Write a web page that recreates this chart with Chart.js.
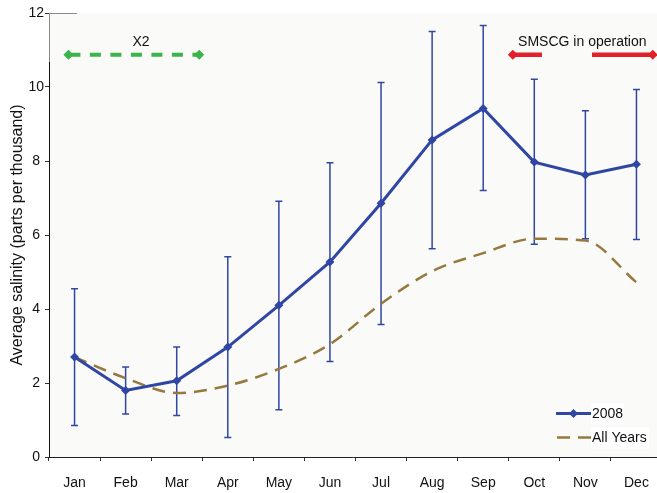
<!DOCTYPE html>
<html>
<head>
<meta charset="utf-8">
<script src="https://cdn.jsdelivr.net/npm/chart.js@4/dist/chart.umd.min.js"></script>
<style>
  html, body { margin: 0; padding: 0; background: #ffffff; }
  #wrap { width: 657px; height: 493px; position: relative; }
</style>
</head>
<body>
<div id="wrap"><canvas id="c" width="657" height="493"></canvas></div>
<script>
// ---- data ----
const months = ['Jan','Feb','Mar','Apr','May','Jun','Jul','Aug','Sep','Oct','Nov','Dec'];
const salinity2008 = [2.70, 1.80, 2.06, 2.97, 4.10, 5.27, 6.86, 8.57, 9.42, 7.97, 7.62, 7.91];
const errHigh2008  = [4.55, 2.43, 2.97, 5.41, 6.91, 7.95, 10.12, 11.50, 11.66, 10.21, 9.36, 9.93];
const errLow2008   = [0.85, 1.16, 1.12, 0.53, 1.28, 2.58, 3.58, 5.63, 7.20, 5.75, 5.90, 5.88];
const salinityAll  = [2.70, 2.13, 1.73, 1.93, 2.38, 3.05, 4.14, 5.02, 5.51, 5.90, 5.85, 4.72];
const yTicks = [0, 2, 4, 6, 8, 10, 12];

// annotation spans (category index units, salinity units)
const x2Span = [-0.12, 2.44];
const smscgLeft = [8.58, 9.15];
const smscgRight = [10.13, 11.32];
const annotY = 10.87;
const annotTextY = 11.2;

const BLUE = '#3046A3';
const BROWN = '#97793F';
const GREEN = '#3AB54A';
const RED = '#E2202A';
const FONT = "'Liberation Sans', Arial, sans-serif";

function diamond(ctx, x, y, r, color) {
  ctx.save();
  ctx.fillStyle = color;
  ctx.beginPath();
  ctx.moveTo(x, y - r); ctx.lineTo(x + r, y); ctx.lineTo(x, y + r); ctx.lineTo(x - r, y);
  ctx.closePath(); ctx.fill();
  ctx.restore();
}

// plot area continues a few pixels past the right edge of the picture (cropped)
const extendPlugin = {
  id: 'extendRight',
  afterLayout(chart) {
    const s = chart.scales.x;
    const newRight = chart.width + 5;
    s.right = newRight;
    s.width = newRight - s.left;
    s.configure();
    chart.chartArea.right = newRight;
    chart.chartArea.width = newRight - chart.chartArea.left;
  }
};

const bgPlugin = {
  id: 'bg',
  beforeDraw(chart) {
    const {ctx, chartArea: a} = chart;
    ctx.save();
    ctx.fillStyle = '#FAFAF8';
    ctx.fillRect(a.left, a.top, a.right - a.left, a.bottom - a.top);
    ctx.restore();
  }
};

const errPlugin = {
  id: 'errbars',
  beforeDatasetsDraw(chart) {
    const {ctx} = chart;
    const xs = chart.scales.x, ys = chart.scales.y;
    ctx.save();
    ctx.strokeStyle = BLUE;
    ctx.lineWidth = 1.5;
    for (let i = 0; i < months.length; i++) {
      const x = xs.getPixelForValue(i);
      const yh = ys.getPixelForValue(errHigh2008[i]);
      const yl = ys.getPixelForValue(errLow2008[i]);
      ctx.beginPath();
      ctx.moveTo(x, yh); ctx.lineTo(x, yl);
      ctx.moveTo(x - 3.5, yh); ctx.lineTo(x + 3.5, yh);
      ctx.moveTo(x - 3.5, yl); ctx.lineTo(x + 3.5, yl);
      ctx.stroke();
    }
    ctx.restore();
  }
};

const annotPlugin = {
  id: 'annot',
  afterDraw(chart) {
    const {ctx, chartArea: a} = chart;
    const xs = chart.scales.x, ys = chart.scales.y;
    const y = ys.getPixelForValue(annotY);
    const ty = ys.getPixelForValue(annotTextY);
    ctx.save();
    // artifact lines at top-left
    ctx.strokeStyle = '#8A8A8A';
    ctx.lineWidth = 1;
    ctx.beginPath();
    ctx.moveTo(a.left + 0.5, a.top + 0.5); ctx.lineTo(a.left + 28, a.top + 0.5);
    ctx.moveTo(a.left + 0.5, a.top); ctx.lineTo(a.left + 0.5, a.top + 49);
    ctx.stroke();

    // X2 green dashed arrow
    const gx1 = xs.getPixelForValue(x2Span[0]);
    const gx2 = xs.getPixelForValue(x2Span[1]);
    ctx.strokeStyle = GREEN;
    ctx.lineWidth = 4;
    ctx.setLineDash([11, 9.5]);
    ctx.lineDashOffset = -1;
    ctx.beginPath(); ctx.moveTo(gx1, y); ctx.lineTo(gx2, y); ctx.stroke();
    ctx.setLineDash([]);
    diamond(ctx, gx1, y, 5, GREEN);
    diamond(ctx, gx2, y, 5, GREEN);

    // SMSCG red
    ctx.strokeStyle = RED;
    ctx.lineWidth = 4.5;
    const r1 = xs.getPixelForValue(smscgLeft[0]), r2 = xs.getPixelForValue(smscgLeft[1]);
    const r3 = xs.getPixelForValue(smscgRight[0]), r4 = xs.getPixelForValue(smscgRight[1]);
    ctx.beginPath(); ctx.moveTo(r1, y); ctx.lineTo(r2, y); ctx.moveTo(r3, y); ctx.lineTo(r4, y); ctx.stroke();
    diamond(ctx, r1, y, 5, RED);
    diamond(ctx, r4, y, 5, RED);

    // texts
    ctx.fillStyle = '#111';
    ctx.font = '14px ' + FONT;
    ctx.textAlign = 'center';
    ctx.textBaseline = 'middle';
    ctx.fillText('X2', xs.getPixelForValue(1.30), ty);
    ctx.fillText('SMSCG in operation', xs.getPixelForValue(9.94), ty);

    // legend
    const lx1 = 556, lx2 = 591, tx = 592;
    const ly1 = 413.5, ly2 = 437.5;
    ctx.fillStyle = '#FFFFFF';
    ctx.fillRect(591, ly1 - 10, 33, 20);
    ctx.fillRect(591, ly2 - 10, 58, 21);
    ctx.strokeStyle = BLUE; ctx.lineWidth = 3;
    ctx.beginPath(); ctx.moveTo(lx1, ly1); ctx.lineTo(lx2, ly1); ctx.stroke();
    diamond(ctx, (lx1 + lx2) / 2, ly1, 4.5, BLUE);
    ctx.strokeStyle = BROWN; ctx.lineWidth = 2.5;
    ctx.setLineDash([13, 8]);
    ctx.beginPath(); ctx.moveTo(lx1, ly2); ctx.lineTo(lx2, ly2); ctx.stroke();
    ctx.setLineDash([]);
    ctx.fillStyle = '#111';
    ctx.textAlign = 'left';
    ctx.fillText('2008', tx, ly1 + 0.5);
    ctx.fillText('All Years', tx, ly2 + 0.5);
    ctx.restore();
  }
};

new Chart(document.getElementById('c'), {
  type: 'line',
  data: {
    labels: months,
    datasets: [
      {
        label: '2008',
        data: salinity2008,
        borderColor: BLUE,
        backgroundColor: BLUE,
        borderWidth: 3,
        pointStyle: 'rectRot',
        pointRadius: 4.5,
        pointBorderWidth: 0,
        pointBackgroundColor: BLUE,
        tension: 0
      },
      {
        label: 'All Years',
        data: salinityAll,
        borderColor: BROWN,
        borderWidth: 2.5,
        borderDash: [13, 8],
        pointRadius: 0,
        cubicInterpolationMode: 'monotone',
        fill: false
      }
    ]
  },
  options: {
    responsive: false,
    animation: false,
    devicePixelRatio: 1,
    layout: { autoPadding: false, padding: { left: 0, right: 0, top: 13, bottom: 0 } },
    plugins: { legend: { display: false }, tooltip: { enabled: false } },
    scales: {
      x: {
        type: 'category',
        offset: true,
        grid: { offset: true, drawOnChartArea: false, tickLength: 4, color: '#333', lineWidth: 1 },
        border: { display: true, color: '#222', width: 1 },
        ticks: { color: '#111', font: { family: FONT, size: 14 }, padding: 14, maxRotation: 0, autoSkip: false },
        afterFit(s) { s.height = 36; }
      },
      y: {
        min: 0, max: 12,
        afterBuildTicks(s) { s.ticks = yTicks.map(v => ({ value: v })); },
        grid: { drawOnChartArea: false, tickLength: 4, color: '#333', lineWidth: 1 },
        border: { display: true, color: '#111', width: 1 },
        ticks: { color: '#111', font: { family: FONT, size: 14 }, padding: 1, crossAlign: 'center' },
        title: { display: true, text: 'Average salinity (parts per thousand)', color: '#111',
                 font: { family: FONT, size: 16 }, padding: { top: 8, bottom: 0 } },
        afterFit(s) { s.width = 49; }
      }
    }
  },
  plugins: [extendPlugin, bgPlugin, errPlugin, annotPlugin]
});
</script>
</body>
</html>
